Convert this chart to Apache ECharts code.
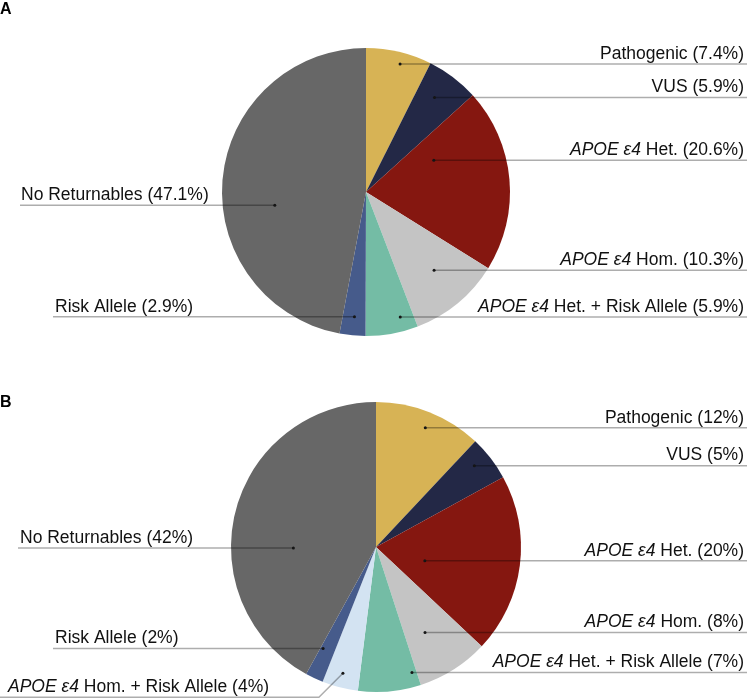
<!DOCTYPE html>
<html>
<head>
<meta charset="utf-8">
<script src="https://cdn.jsdelivr.net/npm/echarts@6/dist/echarts.min.js"></script>
<style>
html,body{margin:0;padding:0;background:#fff;}
#chart{width:750px;height:698px;}
</style>
</head>
<body>
<div id="chart"></div>
<script>
// ---------- data ----------
const categoriesA = ['Pathogenic', 'VUS', 'APOE ε4 Het.', 'APOE ε4 Hom.', 'APOE ε4 Het. + Risk Allele', 'Risk Allele', 'No Returnables'];
const valuesA = [7.4, 5.9, 20.6, 10.3, 5.9, 2.9, 47.1];

const categoriesB = ['Pathogenic', 'VUS', 'APOE ε4 Het.', 'APOE ε4 Hom.', 'APOE ε4 Het. + Risk Allele', 'APOE ε4 Hom. + Risk Allele', 'Risk Allele', 'No Returnables'];
const valuesB = [12, 5, 20, 8, 7, 4, 2, 42];

const panelLabels = ['A', 'B'];

// ---------- styles ----------
const colorByName = {
  'Pathogenic': '#D7B355',
  'VUS': '#232846',
  'APOE ε4 Het.': '#851710',
  'APOE ε4 Hom.': '#C4C4C4',
  'APOE ε4 Het. + Risk Allele': '#74BCA5',
  'APOE ε4 Hom. + Risk Allele': '#D3E3F2',
  'Risk Allele': '#465B8B',
  'No Returnables': '#676767'
};

// label anchor layout: t = fraction across slice angle, r = fraction of radius
const anchorsA = [
  {t: 0.56, r: 0.92, side: 'right'},
  {t: 0.44, r: 0.81, side: 'right'},
  {t: 0.23, r: 0.52, side: 'right'},
  {t: 0.46, r: 0.72, side: 'right'},
  {t: 0.27, r: 0.90, side: 'right'},
  {t: 0.49, r: 0.87, side: 'left', end: 53, textX: 55},
  {t: 0.42, r: 0.64, side: 'left', end: 20, textX: 21}
];
const anchorsB = [
  {t: 0.52, r: 0.89, side: 'right'},
  {t: 0.40, r: 0.88, side: 'right'},
  {t: 0.62, r: 0.35, side: 'right'},
  {t: 0.59, r: 0.68, side: 'right'},
  {t: 0.08, r: 0.90, side: 'right'},
  {t: 0.52, r: 0.90, side: 'left', end: 0, textX: 8, drop: 24},
  {t: 0.82, r: 0.79, side: 'left', end: 53, textX: 55},
  {t: 0.40, r: 0.57, side: 'left', end: 18, textX: 20}
];

const pieA = {center: [366, 192], radius: 144};
const pieB = {center: [376, 547], radius: 145};
const RIGHT_LINE_END = 747;
const RIGHT_TEXT_X = 744;
const FONT = '"Liberation Sans", Arial, Helvetica, sans-serif';
const FS = 17.5;

function anchorPoints(values, anchors, pie) {
  const total = values.reduce((a, b) => a + b, 0);
  let cum = 0;
  return values.map((v, i) => {
    const a0 = cum / total * 360;
    cum += v;
    const a1 = cum / total * 360;
    const ang = (a0 + (a1 - a0) * anchors[i].t) * Math.PI / 180;
    const rr = anchors[i].r * pie.radius;
    return [pie.center[0] + rr * Math.sin(ang), pie.center[1] - rr * Math.cos(ang)];
  });
}

function leaderPoints(dot, a) {
  const drop = a.drop || 0;
  const y = dot[1] + drop;
  if (a.side === 'right') return [dot, [dot[0] + drop, y], [RIGHT_LINE_END, y]];
  return [dot, [dot[0] - drop, y], [a.end, y]];
}

function fmt(params) {
  const name = params.name;
  const tail = ' (' + params.value + '%)';
  if (name.indexOf('APOE ε4') === 0) {
    return '{i|APOE ε4}{n|' + name.slice('APOE ε4'.length) + tail + '}';
  }
  return '{n|' + name + tail + '}';
}

function makeSeries(cats, vals, anchors, pie) {
  const pts = anchorPoints(vals, anchors, pie);
  return {
    type: 'pie',
    center: pie.center,
    radius: pie.radius,
    startAngle: 90,
    clockwise: true,
    avoidLabelOverlap: false,
    silent: true,
    animation: false,
    data: cats.map((c, i) => ({name: c, value: vals[i], itemStyle: {color: colorByName[c]}})),
    itemStyle: {borderWidth: 0},
    label: {
      show: true,
      position: 'outside',
      formatter: fmt,
      width: 520,
      color: '#111',
      fontFamily: FONT,
      fontSize: FS,
      rich: {
        i: {fontStyle: 'italic', fontFamily: FONT, fontSize: FS, color: '#111', lineHeight: 20},
        n: {fontStyle: 'normal', fontFamily: FONT, fontSize: FS, color: '#111', lineHeight: 20}
      }
    },
    labelLine: {show: false},
    labelLayout: function (params) {
      const i = params.dataIndex;
      const a = anchors[i];
      const lineY = pts[i][1] + (a.drop || 0);
      if (a.side === 'right') {
        return {x: RIGHT_TEXT_X, y: lineY, align: 'right', verticalAlign: 'bottom'};
      }
      return {x: a.textX, y: lineY, align: 'left', verticalAlign: 'bottom'};
    },
    emphasis: {disabled: true}
  };
}

function leaders(vals, anchors, pie) {
  const out = [];
  anchorPoints(vals, anchors, pie).forEach((p, i) => {
    out.push({
      type: 'polyline',
      shape: {points: leaderPoints(p, anchors[i])},
      style: {stroke: 'rgba(0,0,0,0.32)', lineWidth: 1.5, fill: null},
      z: 100, silent: true
    });
    out.push({
      type: 'circle',
      shape: {cx: p[0], cy: p[1], r: 1.5},
      style: {fill: '#151515'},
      z: 101, silent: true
    });
  });
  return out;
}

const chart = echarts.init(document.getElementById('chart'), null, {renderer: 'canvas'});
chart.setOption({
  backgroundColor: '#ffffff',
  animation: false,
  title: [
    {text: panelLabels[0], left: 0, top: 1.5, padding: 0,
     textStyle: {fontFamily: FONT, fontSize: 16, fontWeight: 'bold', color: '#000', lineHeight: 16}},
    {text: panelLabels[1], left: 0, top: 394.5, padding: 0,
     textStyle: {fontFamily: FONT, fontSize: 16, fontWeight: 'bold', color: '#000', lineHeight: 16}}
  ],
  series: [
    makeSeries(categoriesA, valuesA, anchorsA, pieA),
    makeSeries(categoriesB, valuesB, anchorsB, pieB)
  ],
  graphic: leaders(valuesA, anchorsA, pieA).concat(leaders(valuesB, anchorsB, pieB))
});
</script>
</body>
</html>
